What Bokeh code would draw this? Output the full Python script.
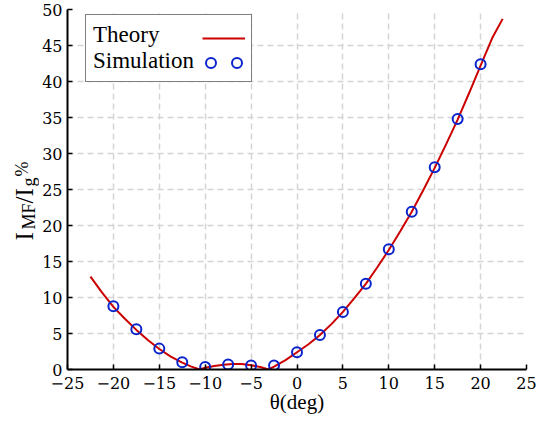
import math
from bokeh.plotting import figure
from bokeh.layouts import row
from bokeh.models import Legend, LegendItem, Label
from bokeh.core.properties import value
from bokeh.embed import file_html
from bokeh.resources import INLINE

# ---- data ----
theory_theta = [-22.5, -21.25, -20, -18.75, -17.5, -16.25, -15, -13.75, -12.5, -11.5,
                -10.6, -10, -9, -8, -7, -6, -5, -4, -3.1, -2.5, -1.25, 0, 1.25, 2.5,
                3.75, 5, 6.25, 7.5, 8.75, 10, 11.25, 12.5, 13.75, 15, 16.25, 17.5,
                18.75, 20, 21.25, 22.4]
theory_ratio = [12.9, 10.7, 8.7, 7.05, 5.5, 4.1, 2.85, 1.8, 0.95, 0.4,
                0.0, 0.25, 0.5, 0.65, 0.75, 0.75, 0.6, 0.35, 0.0, 0.4, 1.3, 2.4, 3.5, 4.8,
                6.3, 8.0, 9.9, 11.9, 14.2, 16.6, 19.2, 21.9, 24.9, 28.0, 31.3, 34.7,
                38.4, 42.2, 46.0, 48.7]
sim_theta = [-20, -17.5, -15, -12.5, -10, -7.5, -5, -2.5, 0, 2.5, 5, 7.5, 10, 12.5, 15, 17.5, 20]
sim_ratio = [8.8, 5.6, 2.9, 1.0, 0.35, 0.7, 0.55, 0.55, 2.4, 4.8, 8.0, 11.9, 16.7, 21.9, 28.1, 34.8, 42.4]
x_ticks = [-25, -20, -15, -10, -5, 0, 5, 10, 15, 20, 25]
y_ticks = [0, 5, 10, 15, 20, 25, 30, 35, 40, 45, 50]
series_names = ["Theory", "Simulation"]
x_title = "θ(deg)"
y_title_parts = ["I", "MF", "/I", "g", "%"]

FONT = "Times New Roman"
TICK_FONT = "DejaVu Serif"
RED = "#cc0000"
BLUE = "#0a24cc"

# ---- narrow strip holding the y-axis title (sub/superscripts as separate texts) ----
t = figure(width=39, height=429, x_range=(0, 1), y_range=(0, 1),
           output_backend="svg", toolbar_location=None,
           x_axis_location=None, y_axis_location=None, min_border=0)
t.outline_line_color = None
t.grid.visible = False
y_parts_style = [(25, 24, 129.0), (18, 28, 140.0), (25, 24, 166.0), (18, 28, 183.0), (18, 21, 193.0)]
for txt, (fs, xs, ys) in zip(y_title_parts, y_parts_style):
    t.add_layout(Label(x=xs, y=ys, x_units="screen", y_units="screen", text=txt,
                       angle=math.pi / 2, text_align="left", text_baseline="alphabetic",
                       text_font=FONT, text_font_size=f"{fs}px", text_color="black"))

# ---- main plot ----
p = figure(width=505, height=429, x_range=(-25, 25), y_range=(0, 50),
           output_backend="svg", toolbar_location=None,
           min_border_left=28, min_border_right=18, min_border_top=9, min_border_bottom=60)
p.outline_line_color = None

theory = p.line(theory_theta, theory_ratio, line_color=RED, line_width=2)
sim = p.scatter(sim_theta, sim_ratio, marker="circle", size=10, fill_color=None,
                line_color=BLUE, line_width=2)

p.xaxis.ticker = x_ticks
p.yaxis.ticker = y_ticks
p.axis.axis_line_color = "black"
p.axis.axis_line_width = 2
p.axis.major_tick_line_color = "black"
p.axis.major_tick_line_width = 1.5
p.axis.major_tick_in = 5
p.axis.major_tick_out = 0
p.axis.minor_tick_line_color = None
p.axis.major_label_text_color = "black"
p.axis.major_label_text_font_size = "16px"
p.axis.major_label_text_font = TICK_FONT
p.xaxis.major_label_standoff = 7
p.yaxis.major_label_standoff = 5
p.xaxis.axis_label = x_title
p.xaxis.axis_label_text_font = FONT
p.xaxis.axis_label_text_font_size = "21px"
p.xaxis.axis_label_text_font_style = "normal"
p.xaxis.axis_label_text_color = "black"
p.xaxis.axis_label_standoff = -2

p.grid.grid_line_color = "#d4d4d4"
p.grid.grid_line_dash = "6 4"
p.grid.grid_line_width = 1.5

leg_text = Legend(items=[LegendItem(label=value(series_names[0]), renderers=[theory]),
                         LegendItem(label=value(series_names[1]), renderers=[theory])],
                  location=(18, 287), glyph_width=0, glyph_height=25, label_height=25,
                  label_width=151, label_standoff=0, padding=7, spacing=0,
                  border_line_color="black", border_line_width=1.5,
                  background_fill_color="white", background_fill_alpha=1.0,
                  label_text_font=FONT, label_text_font_size="23px", label_text_color="black")
p.add_layout(leg_text, "center")

def glyph_legend(renderer, loc, w, h):
    lg = Legend(items=[LegendItem(label=value(""), renderers=[renderer])],
                location=loc, glyph_width=w, glyph_height=h, label_height=0,
                label_width=0, label_standoff=0, padding=0, spacing=0,
                border_line_alpha=0, background_fill_alpha=0,
                label_text_font_size="1px")
    p.add_layout(lg, "center")

glyph_legend(theory, (135, 321.5), 43, 20)
glyph_legend(sim, (130.5, 294), 25, 25)
glyph_legend(sim, (156.5, 294), 25, 25)

layout = row(t, p, spacing=0)
open("out.html", "w").write(file_html(layout, INLINE))
